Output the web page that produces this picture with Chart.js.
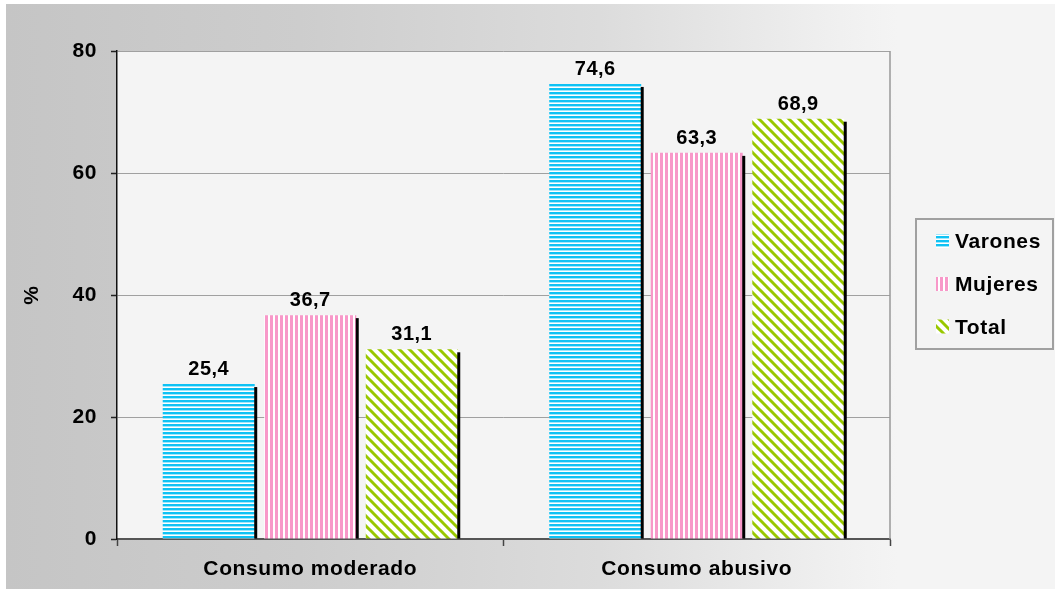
<!DOCTYPE html>
<html>
<head>
<meta charset="utf-8">
<script src="https://cdn.jsdelivr.net/npm/chart.js@4"></script>
<style>
html,body{margin:0;padding:0;background:#fff;}
#wrap{width:1055px;height:590px;}
</style>
</head>
<body>
<div id="wrap"><canvas id="c" width="1055" height="590"></canvas></div>
<script>
const categories = ['Consumo moderado', 'Consumo abusivo'];
const seriesNames = ['Varones', 'Mujeres', 'Total'];
const varones = [25.4, 74.6];
const mujeres = [36.7, 63.3];
const total = [31.1, 68.9];
const yTickLabels = ['0', '20', '40', '60', '80'];
const yAxisTitle = '%';

const FONT = '"Liberation Sans", Arial, sans-serif';
const LS = '0.6px';

const canvas = document.getElementById('c');
const ctx = canvas.getContext('2d');

function stripes(dir, color, period, w) {
  const c = document.createElement('canvas');
  c.width = period; c.height = period;
  const g = c.getContext('2d');
  g.fillStyle = '#ffffff'; g.fillRect(0, 0, period, period);
  g.fillStyle = color;
  if (dir === 'h') g.fillRect(0, 0, period, w); else g.fillRect(0, 0, w, period);
  return ctx.createPattern(c, 'repeat');
}
function diag(color) {
  const s = 10, c = document.createElement('canvas');
  c.width = s; c.height = s;
  const g = c.getContext('2d');
  g.fillStyle = '#ffffff'; g.fillRect(0, 0, s, s);
  g.strokeStyle = color; g.lineWidth = 3.0;
  for (const k of [-s, 0, s]) {
    g.beginPath(); g.moveTo(k - 2, -2); g.lineTo(k + s + 2, s + 2); g.stroke();
  }
  return ctx.createPattern(c, 'repeat');
}

const colors = ['#10c2f4', '#f898c9', '#99c800'];
const fills = [stripes('h', colors[0], 4, 2.4), stripes('v', colors[1], 5, 3), diag(colors[2])];
const seriesValues = [varones, mujeres, total];

function fmt(v) { return v.toFixed(1).replace('.', ','); }

const spacingPlugin = {
  id: 'spacing',
  beforeUpdate(chart) { chart.ctx.letterSpacing = LS; },
  beforeLayout(chart) { chart.ctx.letterSpacing = LS; },
  beforeDraw(chart) {
    const c = chart.ctx;
    c.letterSpacing = LS;
    c.save();
    c.fillStyle = '#ffffff';
    c.fillRect(0, 0, chart.width, chart.height);
    const gr = c.createLinearGradient(6, 0, 1055, 0);
    gr.addColorStop(0, '#c5c5c5');
    gr.addColorStop(0.28, '#cdcdcd');
    gr.addColorStop(0.566, '#dcdcdc');
    gr.addColorStop(0.795, '#f0f0f0');
    gr.addColorStop(0.85, '#f4f4f4');
    gr.addColorStop(1, '#f4f4f4');
    c.fillStyle = gr;
    c.fillRect(6, 4, 1049, 585);
    const a = chart.chartArea;
    c.fillStyle = '#f4f4f4';
    c.fillRect(a.left, a.top, a.right - a.left, a.bottom - a.top);
    c.restore();
  }
};

const barExtrasPlugin = {
  id: 'barExtras',
  afterDatasetsDraw(chart) {
    const c = chart.ctx;
    c.save();
    chart.data.datasets.forEach((ds, i) => {
      const meta = chart.getDatasetMeta(i);
      meta.data.forEach((bar) => {
        const p = bar.getProps(['x', 'y', 'base', 'width'], true);
        const r = p.x + p.width / 2;
        c.fillStyle = '#000000';
        c.fillRect(r - 0.5, p.y + 3, 3, p.base - p.y - 3);
      });
    });
    c.fillStyle = '#000000';
    c.font = 'bold 20px ' + FONT;
    c.letterSpacing = '0.5px';
    c.textAlign = 'center';
    c.textBaseline = 'alphabetic';
    chart.data.datasets.forEach((ds, i) => {
      const meta = chart.getDatasetMeta(i);
      meta.data.forEach((bar, j) => {
        const p = bar.getProps(['x', 'y'], true);
        c.fillText(fmt(ds.data[j]), p.x, p.y - 9);
      });
    });
    c.restore();
  },
  afterDraw(chart) {
    const c = chart.ctx;
    const a = chart.chartArea;
    c.save();
    c.strokeStyle = '#999999';
    c.lineWidth = 1.5;
    c.beginPath();
    c.moveTo(a.right, a.top);
    c.lineTo(a.right, a.bottom);
    c.stroke();
    // legend
    c.fillStyle = '#f4f4f4';
    c.fillRect(915, 218, 139, 132);
    c.strokeStyle = '#a0a0a0';
    c.lineWidth = 2;
    c.strokeRect(916, 219, 137, 130);
    const ys = [248, 291, 333.5];
    c.font = 'bold 21px ' + FONT;
    c.textAlign = 'left';
    c.textBaseline = 'alphabetic';
    chart.data.datasets.forEach((ds, i) => {
      c.fillStyle = ds.backgroundColor;
      c.fillRect(936, ys[i] - 14, 13, 14);
      c.fillStyle = '#000000';
      c.fillText(ds.label, 955, ys[i]);
    });
    c.restore();
  }
};

const tickFont = { family: FONT, size: 21, weight: 'bold' };

new Chart(ctx, {
  type: 'bar',
  data: {
    labels: categories,
    datasets: seriesNames.map((n, i) => ({
      label: n,
      data: seriesValues[i],
      backgroundColor: fills[i],
      borderWidth: 0,
      categoryPercentage: 0.788,
      barPercentage: 0.906
    }))
  },
  options: {
    responsive: false,
    animation: false,
    devicePixelRatio: 1,
    layout: { padding: { left: 0, top: 51, right: 165, bottom: 0 } },
    plugins: { legend: { display: false }, tooltip: { enabled: false }, title: { display: false } },
    scales: {
      x: {
        grid: { display: true, drawOnChartArea: false, drawTicks: true, tickLength: 7, tickColor: '#444444', tickWidth: 1.5, offset: true },
        border: { display: true, color: '#555555', width: 2 },
        ticks: { color: '#000000', padding: 11, font: tickFont, maxRotation: 0, autoSkip: false },
        afterFit: (s) => { s.height = 51; }
      },
      y: {
        min: 0, max: 80,
        ticks: { stepSize: 20, padding: 14, color: '#000000', font: tickFont, callback: (v, i) => yTickLabels[i] },
        grid: { color: '#a0a0a0', lineWidth: 1, tickColor: '#222222', tickLength: 6, tickWidth: 1.5 },
        border: { color: '#111111', width: 1.5 },
        title: { display: true, text: yAxisTitle, color: '#000000', font: tickFont, padding: { top: 20, bottom: 0 } },
        afterFit: (s) => { s.width = 117; }
      }
    }
  },
  plugins: [spacingPlugin, barExtrasPlugin]
});
</script>
</body>
</html>
